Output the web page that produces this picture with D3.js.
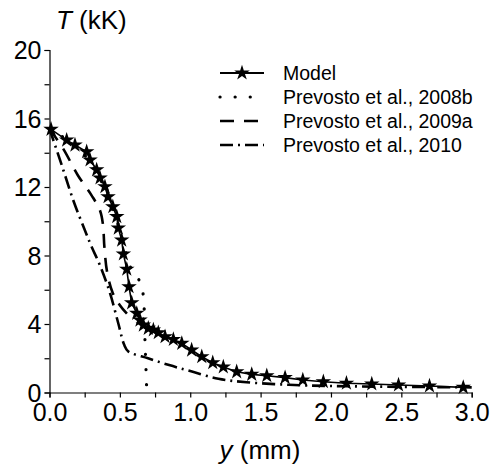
<!DOCTYPE html>
<html><head><meta charset="utf-8">
<script src="https://cdn.jsdelivr.net/npm/d3@7"></script>
<style>body{margin:0;background:#fff}svg{display:block}text{font-family:"Liberation Sans",Arial,sans-serif;fill:#000}</style>
</head><body>
<svg id="c" width="492" height="469"></svg>
<script>
// ---- data (y in mm, T in kK) ----
const modelY = [0.011,0.122,0.181,0.264,0.288,0.335,0.359,0.394,0.416,0.45,0.478,0.489,0.513,0.525,0.549,0.565,0.584,0.62,0.643,0.667,0.702,0.738,0.773,0.821,0.88,0.94,1.01,1.082,1.16,1.235,1.33,1.437,1.544,1.674,1.80,1.946,2.11,2.29,2.48,2.70,2.94];
const modelT = [15.37,14.74,14.45,14.06,13.58,13.0,12.53,12.02,11.43,10.85,10.27,9.6,8.9,8.09,7.2,6.18,5.24,4.62,4.23,3.94,3.75,3.65,3.49,3.26,3.1,2.87,2.48,2.09,1.74,1.49,1.21,1.06,0.98,0.87,0.73,0.63,0.54,0.5,0.44,0.38,0.30];
const p2008bY = [0.0,0.2,0.3,0.4,0.48,0.53,0.57,0.62,0.655,0.672,0.679,0.684,0.69];
const p2008bT = [15.4,14.3,13.3,11.8,10.0,8.6,7.4,6.8,6.2,5.0,2.9,1.8,0.3];
const p2009aY = [0.0,0.1,0.2,0.3,0.36,0.38,0.39,0.41,0.45,0.5,0.55];
const p2009aT = [15.4,14.2,12.7,11.5,10.6,9.8,8.5,7.0,5.8,5.1,4.6];
const p2010Y = [0.0,0.09,0.17,0.25,0.3,0.36,0.43,0.49,0.53,0.56,0.7,0.85,1.0,1.2,1.4,1.7,2.0,2.5,3.0];
const p2010T = [15.4,13.2,11.2,9.5,8.5,7.4,5.8,4.0,2.8,2.4,2.0,1.6,1.25,0.8,0.6,0.45,0.38,0.33,0.3];
const xTicks = [0,0.5,1.0,1.5,2.0,2.5,3.0];
const yTicks = [0,4,8,12,16,20];
const legendLabels = ["Model","Prevosto et al., 2008b","Prevosto et al., 2009a","Prevosto et al., 2010"];

const svg = d3.select("#c");
const x = d3.scaleLinear().domain([0,3]).range([49.5,471.7]);
const y = d3.scaleLinear().domain([0,20]).range([392.5,50]);
const zip = (a,b)=>a.map((v,i)=>[v,b[i]]);
const line = d3.line().x(d=>x(d[0])).y(d=>y(d[1]));

// axes
const xAx = svg.append("g").attr("transform",`translate(0,${y(0)})`)
  .call(d3.axisBottom(x).tickValues(d3.range(0,3.01,0.25)).tickSize(5).tickFormat(d=>xTicks.some(t=>Math.abs(t-d)<1e-6)?d3.format(".1f")(d):""));
const yAx = svg.append("g").attr("transform",`translate(${x(0)},0)`)
  .call(d3.axisLeft(y).tickValues(d3.range(0,20.1,2)).tickSize(5).tickFormat(d=>yTicks.includes(d)?d:""));
[xAx,yAx].forEach(g=>{g.select(".domain").attr("stroke","#000").attr("stroke-width",1.2);
  g.selectAll(".tick line").attr("stroke","#000").attr("stroke-width",1.2);
  g.selectAll("text").style("font-size","25px").attr("fill","#000");});
xAx.selectAll("text").attr("dy","0.95em").attr("y",5);
yAx.selectAll("text").attr("x",-8).attr("dy","0.34em");

// titles
svg.append("text").attr("x",56).attr("y",29).style("font-size","26px")
  .html('<tspan font-style="italic">T</tspan> (kK)');
svg.append("text").attr("x",260).attr("y",459).attr("text-anchor","middle").style("font-size","26px")
  .html('<tspan font-style="italic">y</tspan> (mm)');

const styles = [
  {dash:null, w:1.6},
  {dash:"0.1,15", w:3.2, cap:"round"},
  {dash:"14,10", w:2.6},
  {dash:"13,5,2,5", w:2.6}
];
const series = [zip(modelY,modelT), zip(p2008bY,p2008bT), zip(p2009aY,p2009aT), zip(p2010Y,p2010T)];
series.forEach((s,i)=>{
  const st = styles[i];
  svg.append("path").attr("d", i===0?line(s):d3.line().x(d=>x(d[0])).y(d=>y(d[1])).curve(d3.curveCatmullRom)(s))
    .attr("fill","none").attr("stroke","#000").attr("stroke-width",st.w)
    .attr("stroke-dasharray",st.dash).attr("stroke-linecap",st.cap||"butt");
});
const star = d3.symbol().type(d3.symbolStar).size(75);
svg.append("g").selectAll("path").data(series[0]).join("path")
  .attr("d",star).attr("transform",d=>`translate(${x(d[0])},${y(d[1])})`).attr("fill","#000");

// legend
const lg = svg.append("g");
legendLabels.forEach((lab,i)=>{
  const yy = 73 + i*24;
  lg.append("line").attr("x1",220).attr("x2",264).attr("y1",yy).attr("y2",yy)
    .attr("stroke","#000").attr("stroke-width",i===0?2:styles[i].w).attr("stroke-dasharray",styles[i].dash)
    .attr("stroke-linecap",styles[i].cap||"butt");
  if(i===0) lg.append("path").attr("d",star).attr("transform",`translate(242,${yy})`);
  lg.append("text").attr("x",283).attr("y",yy).attr("dy","0.36em").style("font-size","19.5px").text(lab);
});
</script>
</body></html>
